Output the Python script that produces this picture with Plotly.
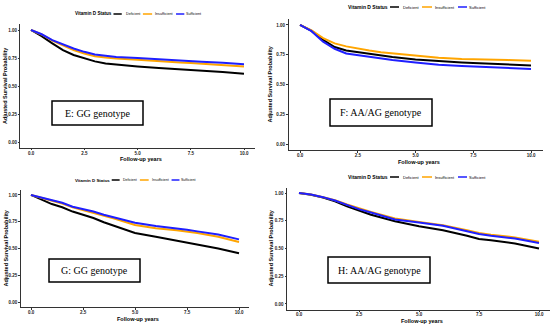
import plotly.graph_objects as go

W, H = 550, 329

# ---------------- data ----------------
time_years = [0, 0.5, 1, 1.5, 2, 2.5, 3, 3.5, 4, 5, 6, 7, 7.5, 8, 9, 10]
status_labels = ["Deficient", "Insufficient", "Sufficient"]
status_colors = ["#000000", "#FFA500", "#1F1FFF"]

E_deficient    = [1.0, 0.945, 0.88, 0.82, 0.777, 0.745, 0.72, 0.70, 0.69, 0.675, 0.66, 0.65, 0.645, 0.64, 0.625, 0.61]
E_insufficient = [1.0, 0.96, 0.905, 0.86, 0.82, 0.79, 0.765, 0.755, 0.745, 0.735, 0.72, 0.71, 0.705, 0.70, 0.69, 0.675]
E_sufficient   = [1.0, 0.962, 0.91, 0.87, 0.835, 0.805, 0.782, 0.77, 0.76, 0.75, 0.737, 0.727, 0.722, 0.717, 0.707, 0.695]

F_deficient    = [1.0, 0.95, 0.875, 0.815, 0.785, 0.77, 0.755, 0.74, 0.73, 0.71, 0.695, 0.685, 0.68, 0.675, 0.67, 0.66]
F_insufficient = [1.0, 0.955, 0.89, 0.845, 0.82, 0.80, 0.785, 0.77, 0.76, 0.74, 0.725, 0.715, 0.71, 0.71, 0.705, 0.70]
F_sufficient   = [1.0, 0.948, 0.86, 0.80, 0.76, 0.745, 0.73, 0.715, 0.705, 0.685, 0.665, 0.655, 0.65, 0.645, 0.64, 0.63]

G_deficient    = [1.0, 0.96, 0.915, 0.885, 0.845, 0.815, 0.785, 0.745, 0.71, 0.645, 0.61, 0.575, 0.555, 0.54, 0.50, 0.455]
G_insufficient = [1.0, 0.975, 0.947, 0.92, 0.885, 0.86, 0.835, 0.805, 0.78, 0.72, 0.69, 0.67, 0.66, 0.645, 0.61, 0.56]
G_sufficient   = [1.0, 0.977, 0.953, 0.927, 0.89, 0.87, 0.845, 0.815, 0.79, 0.74, 0.71, 0.69, 0.675, 0.66, 0.63, 0.585]

H_deficient    = [1.0, 0.985, 0.96, 0.925, 0.88, 0.84, 0.805, 0.775, 0.745, 0.70, 0.665, 0.615, 0.585, 0.575, 0.545, 0.50]
H_insufficient = [1.0, 0.987, 0.963, 0.935, 0.897, 0.86, 0.83, 0.80, 0.77, 0.74, 0.71, 0.665, 0.64, 0.625, 0.60, 0.56]
H_sufficient   = [1.0, 0.987, 0.963, 0.933, 0.893, 0.855, 0.825, 0.792, 0.762, 0.735, 0.705, 0.655, 0.63, 0.615, 0.59, 0.55]

panel_labels = ["E: GG genotype", "F: AA/AG genotype", "G: GG genotype", "H: AA/AG genotype"]
x_ticks = [0, 2.5, 5, 7.5, 10]
x_tick_text = ["0.0", "2.5", "5.0", "7.5", "10.0"]
y_ticks = [0, 0.25, 0.5, 0.75, 1.0]
y_tick_text = ["0.00", "0.25", "0.50", "0.75", "1.00"]
legend_title = "Vitamin D Status"
x_title = "Follow-up years"
y_title = "Adjusted Survival Probability"

series = [
    [E_deficient, E_insufficient, E_sufficient],
    [F_deficient, F_insufficient, F_sufficient],
    [G_deficient, G_insufficient, G_sufficient],
    [H_deficient, H_insufficient, H_sufficient],
]

# ---------------- layout geometry (pixels) ----------------
panels = [
    dict(xd=(20.4, 254.7), yd=(24.4, 147.6), x0=31, x10=244, box=(52, 101, 143, 125), leg=(73, 14, 0.92), ytx=5),
    dict(xd=(288.5, 542.6), yd=(19.0, 150.0), x0=300, x10=531, box=(330, 99, 432, 126), leg=(346, 7, 1.0), ytx=270),
    dict(xd=(20.6, 249.4), yd=(189.6, 307.4), x0=31, x10=239, box=(49, 259, 140, 282), leg=(73, 180, 0.88), ytx=5),
    dict(xd=(287.0, 550.0), yd=(187.5, 309.5), x0=299, x10=539, box=(328, 257, 430, 283), leg=(346, 177, 1.0), ytx=270),
]

def px_x(p):
    return p / W

def px_y(p):
    return 1 - p / H

fig = go.Figure()
shapes = []
annotations = []

for i, (pn, ser) in enumerate(zip(panels, series)):
    ax = "" if i == 0 else str(i + 1)
    for lab, col, vals in zip(status_labels, status_colors, ser):
        fig.add_trace(go.Scatter(
            x=time_years, y=vals, mode="lines", name=lab,
            line=dict(color=col, width=2), showlegend=False,
            xaxis="x" + ax, yaxis="y" + ax,
        ))
    ppu = (pn["x10"] - pn["x0"]) / 10.0
    xr0 = (pn["xd"][0] - pn["x0"]) / ppu
    xr1 = (pn["xd"][1] - pn["x0"]) / ppu
    axis_common = dict(showgrid=False, zeroline=False, showline=True, linecolor="#333",
                       linewidth=1, ticks="outside", ticklen=1.5, tickcolor="#333",
                       tickfont=dict(family="Liberation Sans", size=4.5, color="#222", weight="bold"))
    fig.layout["xaxis" + ax] = dict(domain=[px_x(pn["xd"][0]), px_x(pn["xd"][1])],
                                    range=[xr0, xr1], tickvals=x_ticks, ticktext=x_tick_text,
                                    anchor="y" + ax, ticklabelstandoff=-1, **axis_common)
    fig.layout["yaxis" + ax] = dict(domain=[px_y(pn["yd"][1]), px_y(pn["yd"][0])],
                                    range=[-0.05, 1.05], tickvals=y_ticks, ticktext=y_tick_text,
                                    anchor="x" + ax, **axis_common)
    # axis titles
    annotations.append(dict(x=px_x((pn["xd"][0] + pn["xd"][1]) / 2 + 3), y=px_y(pn["yd"][1] + 11.5),
                            xref="paper", yref="paper", text=x_title, showarrow=False,
                            font=dict(family="Liberation Sans", size=5.5, color="black", weight="bold"),
                            xanchor="center", yanchor="middle"))
    annotations.append(dict(x=px_x(pn["ytx"]), y=px_y((pn["yd"][0] + pn["yd"][1]) / 2), xref="paper", yref="paper",
                            text=y_title, showarrow=False, textangle=-90,
                            font=dict(family="Liberation Sans", size=5.5, color="black", weight="bold"),
                            xanchor="center", yanchor="middle"))
    # panel label box
    bx0, by0, bx1, by1 = pn["box"]
    shapes.append(dict(type="rect", xref="paper", yref="paper",
                       x0=px_x(bx0), x1=px_x(bx1), y0=px_y(by1), y1=px_y(by0),
                       line=dict(color="black", width=1.5), fillcolor="white"))
    annotations.append(dict(x=px_x((bx0 + bx1) / 2), y=px_y((by0 + by1) / 2), xref="paper", yref="paper",
                            text=panel_labels[i], showarrow=False,
                            font=dict(family="Liberation Serif", size=10, color="black"),
                            xanchor="center", yanchor="middle"))
    # legend (manual, matching ggplot top legend)
    lx, ly, s = pn["leg"]
    annotations.append(dict(x=px_x(lx), y=px_y(ly), xref="paper", yref="paper", text=legend_title,
                            showarrow=False, xanchor="left", yanchor="middle",
                            font=dict(family="Liberation Sans", size=5 * s, color="black", weight="bold")))
    offs = [(44, 53, 55), (76, 86, 87), (112, 121, 121)]
    for (l0, l1, t0), lab, col in zip(offs, status_labels, status_colors):
        shapes.append(dict(type="line", xref="paper", yref="paper",
                           x0=px_x(lx + l0 * s), x1=px_x(lx + l1 * s), y0=px_y(ly), y1=px_y(ly),
                           line=dict(color=col, width=1.5)))
        annotations.append(dict(x=px_x(lx + t0 * s), y=px_y(ly), xref="paper", yref="paper", text=lab,
                                showarrow=False, xanchor="left", yanchor="middle",
                                font=dict(family="Liberation Sans", size=4 * s, color="black")))

fig.update_layout(width=W, height=H, margin=dict(l=0, r=0, t=0, b=0),
                  paper_bgcolor="white", plot_bgcolor="white",
                  shapes=shapes, annotations=annotations, showlegend=False)
fig.write_html("out.html", config={"displayModeBar": False},
               post_script="document.body.style.margin='0px';document.body.style.overflow='hidden';")
